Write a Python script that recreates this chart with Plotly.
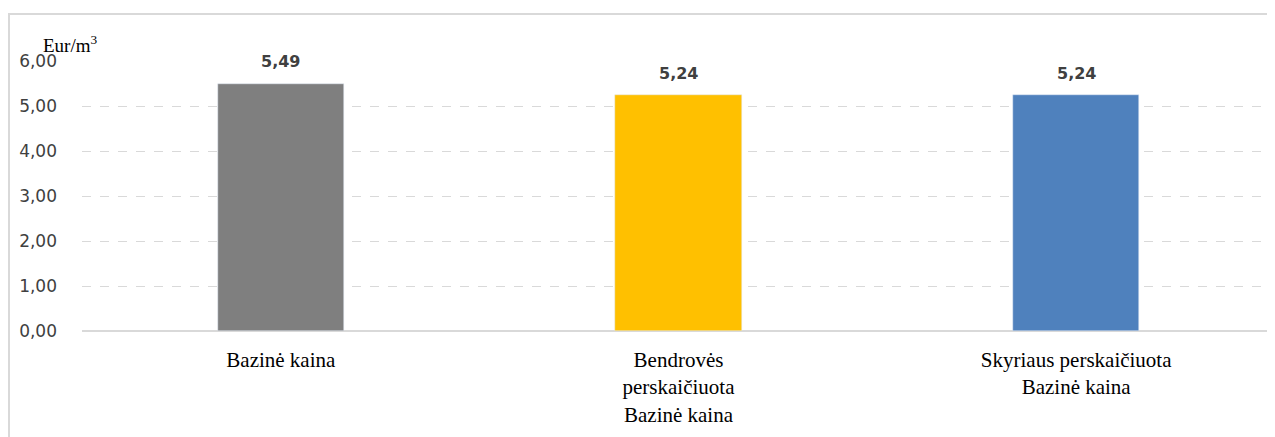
import plotly.graph_objects as go

categories = ["Bazinė kaina", "Bendrovės<br>perskaičiuota<br>Bazinė kaina", "Skyriaus perskaičiuota<br>Bazinė kaina"]
values = [5.49, 5.24, 5.24]
colors = ["#7f7f7f", "#ffc000", "#4f81bd"]
tick_vals = [0, 1, 2, 3, 4, 5, 6]

# page body has an 8px margin; compensate so the plot lands where the reference has it
W, H = 1275, 437
ml, mr, mt, mb = 74, 8, 53, 114
pw, ph = W - ml - mr, H - mt - mb

fig = go.Figure()
fig.add_trace(go.Bar(
    x=categories, y=values, marker_color=colors, width=0.317,
))

for c, v in zip(categories, values):
    fig.add_annotation(x=c, y=v, xref="x", yref="y", showarrow=False,
                       text=f"{v:.2f}".replace(".", ","), yanchor="middle", yshift=22,
                       font=dict(family="DejaVu Sans", size=16, color="#404040", weight="bold"))

fig.update_layout(
    width=W, height=H, margin=dict(l=ml, r=mr, t=mt, b=mb),
    paper_bgcolor="white", plot_bgcolor="white", showlegend=False,
    separators=", ", bargap=0,
    xaxis=dict(showgrid=False, showline=False, zeroline=False, ticks="",
               ticklabelstandoff=14,
               tickfont=dict(family="Liberation Serif", size=21, color="#000000")),
    yaxis=dict(range=[0, 6], tickvals=tick_vals, tickformat=".2f",
               showgrid=True, gridcolor="#d9d9d9", griddash="dash", gridwidth=1,
               zeroline=True, zerolinecolor="#d9d9d9", zerolinewidth=1.5,
               ticklabelstandoff=24,
               tickfont=dict(family="DejaVu Sans", size=17, color="#404040")),
    font=dict(family="DejaVu Sans"),
)

# outer chart frame (cut off at right and bottom)
fig.add_shape(type="rect", xref="paper", yref="paper",
              x0=(1 - ml) / pw, x1=1.2, y0=-1.0, y1=1 + (mt - 6) / ph,
              line=dict(color="#d9d9d9", width=2), layer="below")

fig.add_annotation(xref="paper", yref="paper", x=(33 - ml) / pw, y=1 + (mt - 36) / ph,
                   xanchor="left", yanchor="middle", showarrow=False,
                   text="Eur/m<sup>3</sup>",
                   font=dict(family="Liberation Serif", size=19, color="#000000"))

fig.write_html("out.html")
